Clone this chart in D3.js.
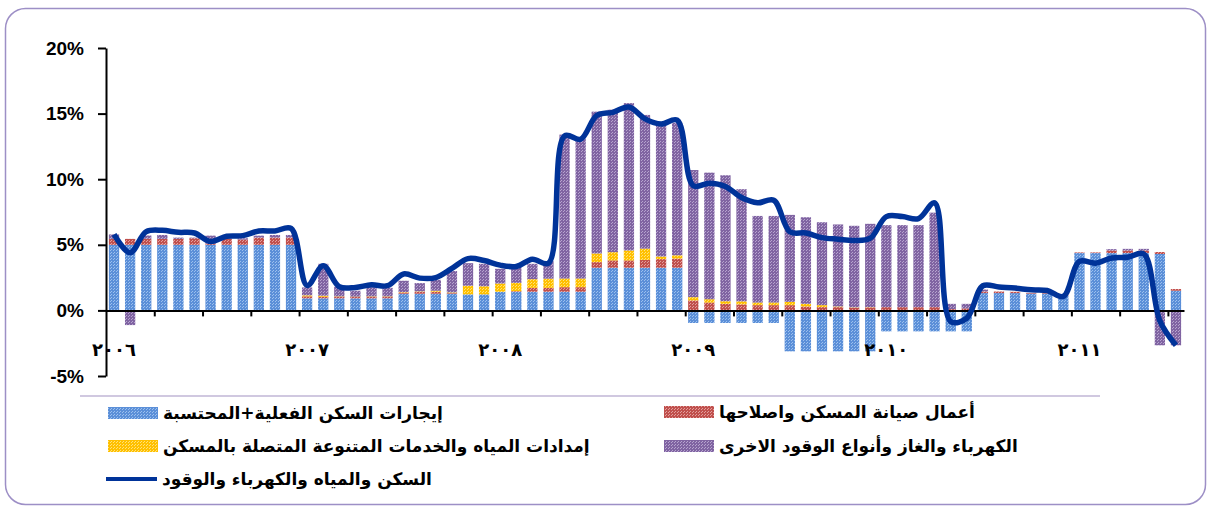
<!DOCTYPE html>
<html>
<head>
<meta charset="utf-8">
<script src="https://cdn.jsdelivr.net/npm/d3@7"></script>
<style>
  body { margin: 0; background: #fff; }
  svg { display: block; }
  .y.axis text { font-family: "Liberation Sans", Arial, sans-serif; font-weight: bold; font-size: 19px; fill: #000; }
  .axis path, .axis line { stroke: #000; stroke-width: 2px; }
  .year { font-family: "DejaVu Sans", sans-serif; font-weight: bold; font-size: 18px; letter-spacing: 5px; }
  .legend text { font-family: "DejaVu Sans", sans-serif; font-weight: bold; font-size: 17px; fill: #000; }
</style>
</head>
<body>
<script>
var W = 1213, H = 509;

// one entry per month, Jan 2006 .. Jul 2011
var months = d3.range(67);
var yearLabels = ["٢٠٠٦", "٢٠٠٧", "٢٠٠٨", "٢٠٠٩", "٢٠١٠", "٢٠١١"];

var rent = [5.0, 5.0, 5.0, 5.0, 5.0, 5.0, 5.0, 5.0, 5.0, 5.0, 5.0, 5.0,
  0.92, 0.92, 0.92, 0.92, 0.92, 0.92, 1.27, 1.27, 1.27, 1.27, 1.22, 1.22,
  1.42, 1.42, 1.42, 1.42, 1.42, 1.42, 3.25, 3.25, 3.25, 3.25, 3.25, 3.25,
  -0.96, -0.96, -0.96, -0.96, -0.96, -0.96, -3.12, -3.12, -3.12, -3.12, -3.12, -3.12,
  -1.6, -1.6, -1.6, -1.6, -1.6, -1.6, 1.32, 1.32, 1.32, 1.28, 1.28, 1.1,
  4.37, 4.37, 4.37, 4.37, 4.37, 4.3, 1.5];

var maintenance = [0.45, 0.45, 0.46, 0.45, 0.45, 0.5, 0.1, 0.45, 0.4, 0.55, 0.55, 0.55,
  0.15, 0.12, 0.12, 0.1, 0.12, 0.12, 0.1, 0.15, 0.15, 0.05, 0, 0,
  0, 0.05, 0.3, 0.3, 0.35, 0.35, 0.43, 0.56, 0.56, 0.6, 0.66, 0.7,
  0.76, 0.6, 0.5, 0.46, 0.4, 0.4, 0.4, 0.3, 0.25, 0.25, 0.2, 0.23,
  0.25, 0.25, 0.25, 0.25, 0.1, 0.15, 0.12, 0.12, 0.1, 0.05, 0.05, 0.05,
  0.05, 0.05, 0.2, 0.2, 0.2, 0.15, 0.13];

var water = [0, 0, 0, 0, 0, 0, 0, 0, 0, 0, 0, 0,
  0.08, 0.08, 0.03, 0.03, 0.03, 0.03, 0.03, 0.03, 0.08, 0.05, 0.66, 0.62,
  0.63, 0.63, 0.66, 0.7, 0.66, 0.66, 0.66, 0.63, 0.76, 0.86, 0.2, 0.25,
  0.25, 0.25, 0.2, 0.23, 0.2, 0.2, 0.25, 0.2, 0.15, 0.05, 0.03, 0.02,
  0, 0, 0, 0, 0, 0, 0, 0, 0, 0, 0, 0,
  0, 0, 0, 0, 0, 0, 0];

var fuel = [0.34, -1.12, 0.25, 0.3, 0.1, 0.05, 0.6, 0, 0.1, 0.15, 0.2, 0.2,
  0.6, 2.43, 0.73, 0.45, 0.7, 0.65, 0.86, 0.63, 0.83, 1.63, 1.72, 1.71,
  1.12, 1.2, 1.17, 1.34, 10.97, 10.67, 10.81, 10.86, 11.23, 10.19, 10.19, 10.1,
  9.69, 9.65, 9.6, 8.55, 6.6, 6.6, 6.63, 6.6, 6.32, 6.25, 6.22, 6.35,
  6.25, 6.25, 6.25, 7.2, 0.4, 0.35, 0.15, 0, 0, 0, 0, 0,
  0, 0, 0.1, 0.12, 0.12, -2.66, -2.66];

var total = [5.8, 4.4, 6.0, 6.1, 5.95, 5.9, 5.25, 5.65, 5.7, 6.05, 6.05, 6.25,
  1.9, 3.4, 1.8, 1.75, 1.95, 1.88, 2.78, 2.46, 2.5, 3.2, 3.95, 3.8,
  3.45, 3.35, 3.9, 3.6, 13.3, 13.05, 14.85, 15.1, 15.5, 14.6, 14.2, 14.5,
  9.5, 9.7, 9.45, 8.6, 8.2, 8.4, 6.0, 5.9, 5.55, 5.43, 5.33, 5.5,
  7.15, 7.15, 7.0, 8.2, -0.84, -0.6, 1.88, 1.78, 1.7, 1.57, 1.52, 1.07,
  3.73, 3.6, 4.0, 4.05, 4.3, -0.8, -2.66];

var seriesNames = ["إيجارات السكن الفعلية+المحتسبة", "أعمال صيانة المسكن واصلاحها",
  "إمدادات المياه والخدمات المتنوعة المتصلة بالمسكن", "الكهرباء والغاز وأنواع الوقود الاخرى"];
var lineName = "السكن والمياه والكهرباء والوقود";

var keys = ["rent", "maintenance", "water", "fuel"];
var colors = {rent: ["#5b8fd8", "#9cc0ee"], maintenance: ["#c0504d", "#e3a09e"],
  water: ["#ffc000", "#ffe27a"], fuel: ["#8064a2", "#b7a4cf"]};

var rows = months.map(function(i) {
  return {i: i, rent: rent[i], maintenance: maintenance[i], water: water[i], fuel: fuel[i], total: total[i]};
});

var svg = d3.select("body").append("svg").attr("width", W).attr("height", H);

// stippled fills
var defs = svg.append("defs");
keys.forEach(function(k) {
  var p = defs.append("pattern").attr("id", "pat-" + k)
      .attr("patternUnits", "userSpaceOnUse").attr("width", 3).attr("height", 3);
  p.append("rect").attr("width", 3).attr("height", 3).attr("fill", colors[k][0]);
  p.append("rect").attr("x", 0).attr("y", 0).attr("width", 1).attr("height", 1).attr("fill", colors[k][1]);
  p.append("rect").attr("x", 2).attr("y", 1).attr("width", 1).attr("height", 1).attr("fill", colors[k][1]);
});

svg.append("rect")
    .attr("x", 5.5).attr("y", 8.5).attr("width", 1200).attr("height", 496)
    .attr("rx", 20).attr("ry", 20)
    .attr("fill", "none").attr("stroke", "#9d8fc6").attr("stroke-width", 1.5);

var x = d3.scaleBand().domain(months).range([106, 1184]).paddingInner(0.36).paddingOuter(0.18);
var xTick = d3.scaleLinear().domain([0, 67]).range([106, 1184]);
var y = d3.scaleLinear().domain([-5, 20]).range([376, 48]);

var stack = d3.stack().keys(keys).offset(d3.stackOffsetDiverging);
var series = stack(rows);

svg.append("g").selectAll("g")
  .data(series)
  .join("g")
    .attr("fill", function(d) { return "url(#pat-" + d.key + ")"; })
  .selectAll("rect")
  .data(function(d) { return d; })
  .join("rect")
    .attr("x", function(d) { return x(d.data.i); })
    .attr("width", x.bandwidth())
    .attr("y", function(d) { return y(Math.max(d[0], d[1])); })
    .attr("height", function(d) { return Math.abs(y(d[0]) - y(d[1])); });

// x axis along zero
svg.append("g")
    .attr("class", "x axis")
    .attr("transform", "translate(0," + y(0) + ")")
    .call(d3.axisBottom(xTick).tickValues(d3.range(3, 67, 3)).tickSize(6).tickSizeOuter(0).tickFormat(""));

svg.append("g").selectAll("text")
  .data(yearLabels)
  .join("text")
    .attr("class", "year")
    .attr("x", function(d, j) { return x(j * 12) + x.bandwidth() / 2; })
    .attr("y", 356)
    .attr("text-anchor", "middle")
    .text(function(d) { return d; });

svg.append("g")
    .attr("class", "y axis")
    .attr("transform", "translate(106,0)")
    .call(d3.axisLeft(y).tickValues([-5, 0, 5, 10, 15, 20]).tickSize(8).tickSizeOuter(0).tickPadding(14)
      .tickFormat(function(d) { return d + "%"; }));

var line = d3.line()
    .x(function(d) { return x(d.i) + x.bandwidth() / 2; })
    .y(function(d) { return y(d.total); })
    .curve(d3.curveCatmullRom.alpha(0.5));

svg.append("path")
    .datum(rows)
    .attr("fill", "none")
    .attr("stroke", "#003399")
    .attr("stroke-width", 5.5)
    .attr("stroke-linejoin", "round")
    .attr("d", line);

// legend
var legend = svg.append("g").attr("class", "legend");
legend.append("line").attr("x1", 80).attr("x2", 1100).attr("y1", 396).attr("y2", 396)
    .attr("stroke", "#d0c8e0").attr("stroke-width", 2);

var legendItems = [
  {key: "rent", name: seriesNames[0], x: 108, y: 413},
  {key: "maintenance", name: seriesNames[1], x: 664, y: 412},
  {key: "water", name: seriesNames[2], x: 108, y: 446},
  {key: "fuel", name: seriesNames[3], x: 664, y: 446}
];
legendItems.forEach(function(it) {
  legend.append("rect").attr("x", it.x).attr("y", it.y - 6).attr("width", 50).attr("height", 12)
      .attr("fill", "url(#pat-" + it.key + ")");
  legend.append("text").attr("x", it.x + 55).attr("y", it.y + 6).text(it.name);
});
legend.append("line").attr("x1", 106).attr("x2", 157).attr("y1", 479).attr("y2", 479)
    .attr("stroke", "#003399").attr("stroke-width", 4);
legend.append("text").attr("x", 162).attr("y", 485).text(lineName);
</script>
</body>
</html>
